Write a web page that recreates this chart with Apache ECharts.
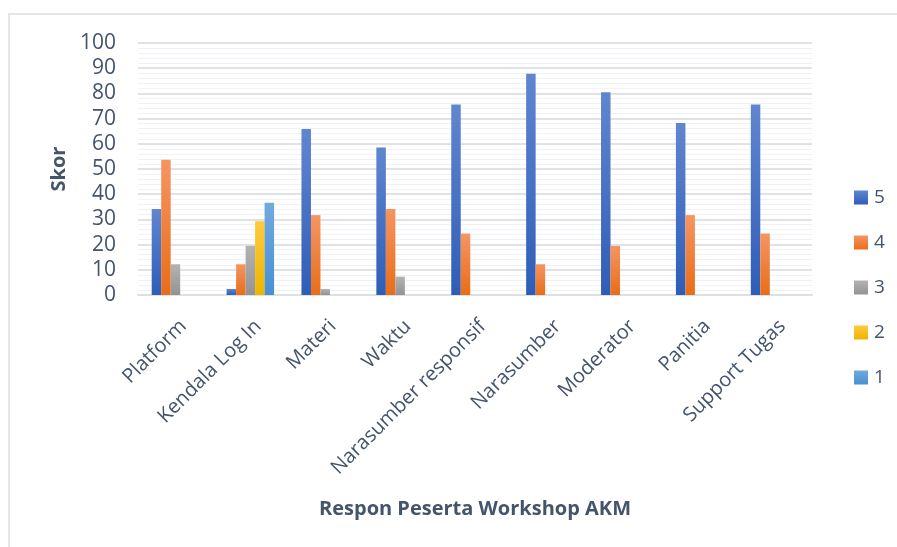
<!DOCTYPE html>
<html>
<head>
<meta charset="utf-8">
<script src="https://cdn.jsdelivr.net/npm/echarts@6/dist/echarts.min.js"></script>
<style>html,body{margin:0;padding:0;background:#fff;}#c{width:897px;height:547px;}</style>
</head>
<body>
<div id="c"></div>
<script>
const categories = ['Platform','Kendala Log In','Materi','Waktu','Narasumber responsif','Narasumber','Moderator','Panitia','Support Tugas'];
const s5 = [34.1, 2.4, 65.9, 58.5, 75.6, 87.8, 80.5, 68.3, 75.6];
const s4 = [53.7, 12.2, 31.7, 34.1, 24.4, 12.2, 19.5, 31.7, 24.4];
const s3 = [12.2, 19.5, 2.4, 7.3, null, null, null, null, null];
const s2 = [null, 29.3, null, null, null, null, null, null, null];
const s1 = [null, 36.6, null, null, null, null, null, null, null];
const seriesNames = ['5','4','3','2','1'];
const yTicks = [0,10,20,30,40,50,60,70,80,90,100];

const grads = [
  ['#6186d0','#2e5db8'],
  ['#f59562','#e96d18'],
  ['#b3b3b3','#939393'],
  ['#ffca3f','#ecb500'],
  ['#71aade','#4690d2']
];
function grad(c){
  return new echarts.graphic.LinearGradient(0,0,0,1,[{offset:0,color:c[0]},{offset:1,color:c[1]}]);
}
const txt = '#44546a';
const font = '"Open Sans", sans-serif';
const data = [s5,s4,s3,s2,s1];
const chart = echarts.init(document.getElementById('c'), null, {renderer:'canvas'});
chart.setOption({
  animation:false,
  backgroundColor:'#fff',
  graphic:[{type:'rect',shape:{x:9,y:14,width:900,height:540},style:{fill:'none',stroke:'#e2e6ea',lineWidth:2},silent:true}],
  grid:{left:138,right:85,top:43,bottom:252,containLabel:false},
  legend:{
    orient:'vertical', left:849, top:183, itemWidth:14, itemHeight:14, itemGap:26,
    icon:'rect', data:seriesNames,
    textStyle:{color:txt,fontSize:19,fontFamily:font,lineHeight:14,padding:[0,0,0,1]}
  },
  xAxis:{
    type:'category', data:categories,
    axisLine:{show:true,lineStyle:{color:'#dde1e6',width:2}},
    axisTick:{show:false},
    axisLabel:{rotate:45,color:txt,fontSize:20,fontFamily:font,margin:36,interval:0,padding:[0,-11,0,0]},
    name:'Respon Peserta Workshop AKM', nameLocation:'middle', nameGap:204,
    nameTextStyle:{color:txt,fontSize:20,fontWeight:'bold',fontFamily:font}
  },
  yAxis:{
    type:'value', min:0, max:100, interval:10,
    axisLine:{show:false}, axisTick:{show:false},
    axisLabel:{color:txt,fontSize:21,fontFamily:font,margin:22,formatter:function(v){return yTicks.indexOf(v)>=0?String(v):'';}},
    splitLine:{show:true,lineStyle:{color:'#dfe3e8',width:1.8}},
    minorTick:{show:false,splitNumber:5},
    minorSplitLine:{show:true,lineStyle:{color:'#f0f2f5',width:1}},
    name:'Skor', nameLocation:'middle', nameGap:68,
    nameTextStyle:{color:txt,fontSize:20,fontWeight:'bold',fontFamily:font}
  },
  series: data.map((d,i)=>({
    name:seriesNames[i], type:'bar', data:d, barWidth:9.5, barGap:'0%', barCategoryGap:'36%',
    itemStyle:{color:grad(grads[i])}
  }))
});
</script>
</body>
</html>
